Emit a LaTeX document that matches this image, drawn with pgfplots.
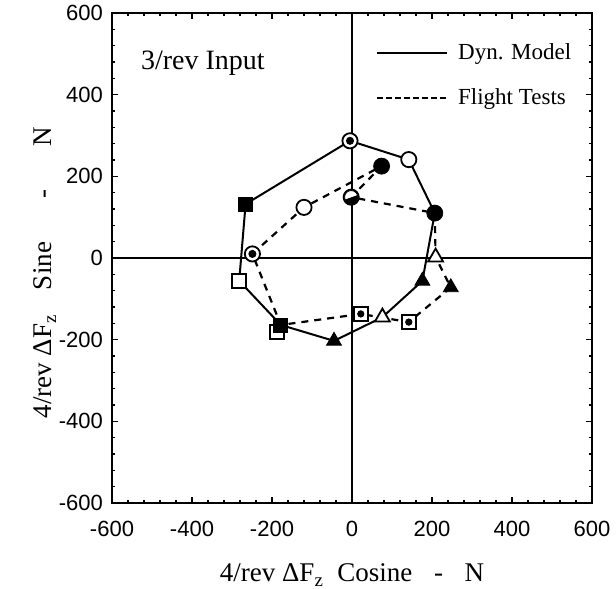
\documentclass[border=0pt]{standalone}
\usepackage{pgfplots}
\pgfplotsset{compat=1.18}
\usepackage{fontspec}
\setmainfont{Liberation Serif}
\newfontfamily\ticksf{Liberation Sans}
\begin{document}
\begin{tikzpicture}
\path[use as bounding box] (-56pt,-43pt) rectangle (252pt,251.5pt);
\begin{axis}[
  at={(0pt,0pt)}, anchor=south west,
  scale only axis, width=240pt, height=245pt,
  xmin=-600, xmax=600, ymin=-600, ymax=600,
  xtick={-600,-400,-200,0,200,400,600},
  xticklabels={-600,-400,-200,0,200,400,600},
  ytick={-600,-400,-200,0,200,400,600},
  yticklabels={-600,-400,-200,0,200,400,600},
  minor tick num=4,
  tick align=inside,
  major tick length=3pt, minor tick length=1.5pt,
  every tick/.style={black, line width=0.6pt},
  axis line style={line width=0.9pt},
  ticklabel style={font=\ticksf\fontsize{11}{13}\selectfont},
  xticklabel style={yshift=-5.5pt},
  yticklabel style={xshift=-1pt},
  xlabel={4/rev ΔF\textsubscript{z}\ \ Cosine\hspace{0.8em}-\hspace{0.8em}N},
  ylabel={4/rev ΔF\textsubscript{z}\hspace{0.9em}Sine\hspace{1.6em}-\hspace{1.6em}N},
  every axis x label/.style={at={(rel axis cs:0.5,0)}, anchor=center, yshift=-36pt,
    font=\fontsize{13.5}{16}\selectfont},
  every axis y label/.style={at={(rel axis cs:-0.1396,0.47)}, anchor=center, rotate=90,
    font=\fontsize{13.5}{16}\selectfont},
  legend style={draw=none, fill=none, at={(rel axis cs:0.537,0.955)}, anchor=north west,
    font=\fontsize{11.5}{14}\selectfont, row sep=9pt},
  legend cell align=left,
  legend image code/.code={\draw[#1] (0pt,0pt) -- (35pt,0pt);},
  clip=false,
]
% zero lines
\addplot[black, line width=1pt, forget plot] coordinates {(-600,0) (600,0)};
\addplot[black, line width=1pt, forget plot] coordinates {(0,-600) (0,600)};
% Dyn. Model
\addplot[black, line width=1pt, forget plot] coordinates {
(-266,132) (-5,287) (142,241) (207,110) (176,-56) (76,-145) (-45,-203) (-178,-164) (-282,-56) (-266,132)};
% Flight tests
\addplot[black, line width=1.1pt, dash pattern=on 3.5pt off 3pt, forget plot] coordinates {
(-249,10) (-120,124) (74,225) (-2,149) (207,110) (209,2) (247,-72) (142,-157) (22,-137) (-178,-164) (-249,10)};
% markers
\pgfplotsset{omk/.style={only marks, forget plot}}
% open circles
\addplot[omk, mark=*, mark size=3.8pt, mark options={solid, fill=white, draw=black, line width=0.9pt}] coordinates {(-5,287) (142,241) (-120,124) (-249,10) (-2,149)};
% dots inside circles
\addplot[omk, mark=*, mark size=1.8pt, black] coordinates {(-5,287) (-249,10)};
\addplot[omk, mark=halfcircle*, mark size=3.3pt, black, mark options={rotate=200}] coordinates {(-2,149)};
% filled circles
\addplot[omk, mark=*, mark size=4pt, black] coordinates {(74,225) (207,110)};
% open squares
\addplot[omk, mark=square*, mark size=3.5pt, mark options={solid, fill=white, draw=black, line width=0.9pt}] coordinates {(-282,-56) (-187,-182) (22,-137) (142,-157)};
% dots in squares
\addplot[omk, mark=*, mark size=1.6pt, black] coordinates {(22,-137) (142,-157)};
% filled squares
\addplot[omk, mark=square*, mark size=3.5pt, black] coordinates {(-266,132) (-178,-164)};
% open triangles
\addplot[omk, mark=triangle*, mark size=4.3pt, mark options={solid, fill=white, draw=black, line width=0.9pt}] coordinates {(76,-145) (209,2)};
% filled triangles
\addplot[omk, mark=triangle*, mark size=4.3pt, black] coordinates {(176,-56) (247,-72) (-45,-203)};
% legend
\addlegendimage{black, line width=1pt}
\addlegendentry{\hspace*{3pt}Dyn. Model}
\addlegendimage{black, line width=0.9pt, dash pattern=on 3pt off 1.5pt}
\addlegendentry{\hspace*{3pt}Flight Tests}
\node[font=\fontsize{14}{16}\selectfont, anchor=west] at (axis cs:-545,477) {3/rev Input};
\end{axis}
\end{tikzpicture}
\end{document}
